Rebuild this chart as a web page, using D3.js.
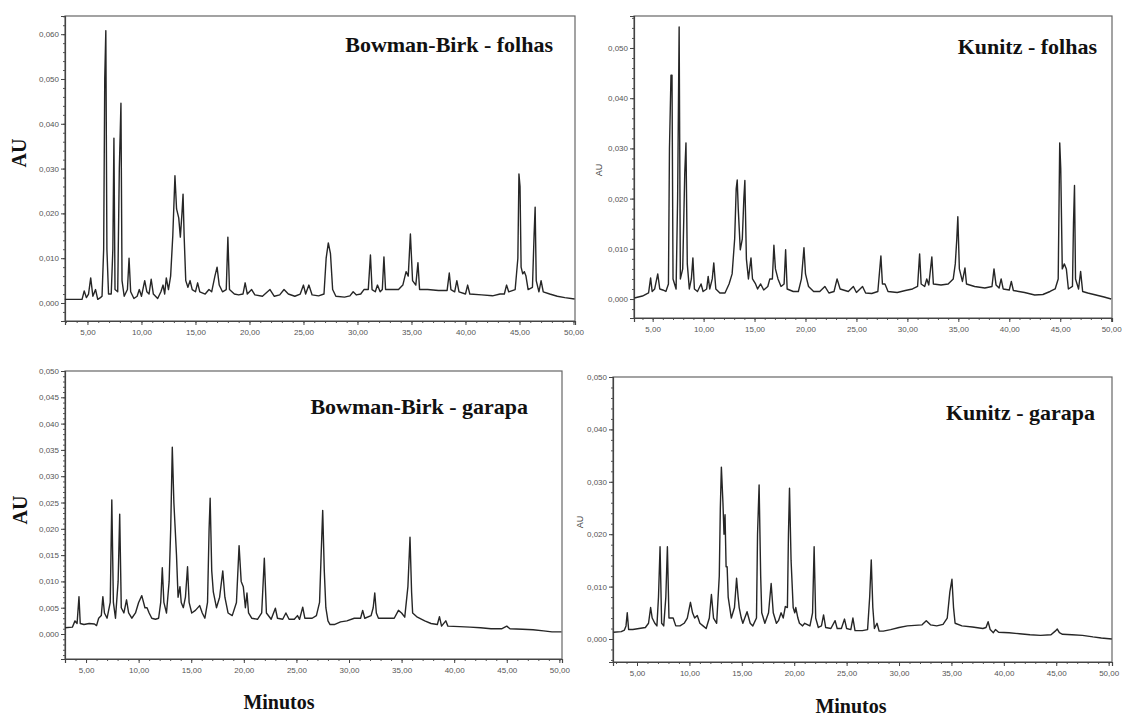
<!DOCTYPE html>
<html>
<head>
<meta charset="utf-8">
<script src="https://cdn.jsdelivr.net/npm/d3@7"></script>
<style>
  body { margin: 0; background: #fff; }
  svg { display: block; }
  .tick text { font-family: "Liberation Sans", Arial, sans-serif; font-size: 8px; fill: #555; }
  .title { font-family: "Liberation Serif", "Times New Roman", serif; font-weight: bold; font-size: 22px; fill: #111; }
  .au-big { font-family: "Liberation Serif", serif; font-weight: bold; font-size: 20px; fill: #111; }
  .au-small { font-family: "Liberation Sans", sans-serif; font-size: 9px; fill: #444; }
  .minutos { font-family: "Liberation Serif", serif; font-weight: bold; font-size: 20px; fill: #111; }
</style>
</head>
<body>
<svg id="chart" width="1123" height="716"></svg>
<script>
// tick values / labels
const xTicks = [5, 10, 15, 20, 25, 30, 35, 40, 45, 50];
const xTickLabels = ["5,00", "10,00", "15,00", "20,00", "25,00", "30,00", "35,00", "40,00", "45,00", "50,00"];
const yTicks60 = [0, 0.01, 0.02, 0.03, 0.04, 0.05, 0.06];
const yTicks50 = [0, 0.01, 0.02, 0.03, 0.04, 0.05];
const yTicks50fine = [0, 0.005, 0.01, 0.015, 0.02, 0.025, 0.03, 0.035, 0.04, 0.045, 0.05];

const titles = ["Bowman-Birk - folhas", "Kunitz - folhas", "Bowman-Birk - garapa", "Kunitz - garapa"];

// chromatogram traces: [minutes, AU]
const bbFolhas = [[2.9,0.0008],[4.5,0.0008],[4.7,0.0027],[4.9,0.0012],[5.1,0.002],[5.3,0.0056],[5.5,0.0015],[5.75,0.003],[5.95,0.0008],[6.2,0.0012],[6.35,0.0015],[6.5,0.012],[6.6,0.05],[6.7,0.0608],[6.8,0.012],[6.95,0.002],[7.2,0.002],[7.35,0.012],[7.45,0.0368],[7.55,0.003],[7.8,0.0025],[7.95,0.03],[8.1,0.0446],[8.2,0.005],[8.4,0.0015],[8.7,0.003],[8.85,0.01],[9.0,0.0025],[9.3,0.001],[9.6,0.0015],[9.8,0.003],[10.0,0.0015],[10.3,0.005],[10.5,0.0025],[10.7,0.002],[10.9,0.0053],[11.1,0.002],[11.5,0.001],[11.8,0.0025],[12.0,0.004],[12.15,0.002],[12.3,0.0056],[12.5,0.003],[12.7,0.006],[12.9,0.015],[13.1,0.0284],[13.25,0.021],[13.45,0.019],[13.6,0.0147],[13.75,0.02],[13.85,0.0243],[13.95,0.015],[14.1,0.005],[14.3,0.0035],[14.5,0.005],[14.7,0.003],[15.0,0.0025],[15.2,0.0045],[15.4,0.0025],[15.9,0.002],[16.25,0.003],[16.5,0.0025],[16.8,0.006],[17.0,0.008],[17.2,0.004],[17.5,0.0025],[17.85,0.003],[18.0,0.0147],[18.15,0.003],[18.6,0.002],[19.0,0.0018],[19.4,0.002],[19.6,0.0045],[19.8,0.002],[20.2,0.003],[20.5,0.0018],[21.2,0.0015],[21.9,0.003],[22.3,0.0015],[22.8,0.0018],[23.2,0.003],[23.6,0.002],[24.2,0.0015],[24.7,0.002],[25.0,0.004],[25.2,0.002],[25.5,0.004],[25.8,0.0018],[26.4,0.0016],[26.9,0.002],[27.1,0.01],[27.3,0.0134],[27.5,0.011],[27.7,0.003],[28.0,0.0015],[28.8,0.0013],[29.3,0.0016],[29.6,0.0025],[29.9,0.0018],[30.3,0.002],[30.6,0.003],[31.0,0.003],[31.2,0.0107],[31.35,0.003],[31.65,0.0025],[31.85,0.004],[32.1,0.0025],[32.3,0.003],[32.45,0.0103],[32.6,0.003],[33.2,0.003],[33.8,0.003],[34.2,0.004],[34.5,0.007],[34.7,0.006],[34.9,0.0154],[35.1,0.005],[35.4,0.004],[35.6,0.009],[35.75,0.003],[36.5,0.003],[37.5,0.0028],[38.3,0.0028],[38.5,0.0067],[38.65,0.003],[39.0,0.0025],[39.2,0.005],[39.4,0.0025],[40.0,0.002],[40.2,0.004],[40.4,0.002],[41.5,0.0018],[42.5,0.0016],[43.2,0.002],[43.6,0.002],[43.8,0.004],[44.0,0.0025],[44.6,0.003],[44.85,0.01],[44.95,0.0288],[45.05,0.026],[45.15,0.008],[45.3,0.0065],[45.45,0.007],[45.6,0.006],[45.8,0.003],[46.2,0.0035],[46.35,0.015],[46.45,0.0214],[46.55,0.005],[46.8,0.0025],[47.0,0.005],[47.2,0.0025],[47.8,0.002],[48.5,0.0015],[49.2,0.0012],[50.1,0.0009]];

const kFolhas = [[3.2,0.0002],[4.0,0.0006],[4.6,0.0012],[4.8,0.0042],[4.95,0.0015],[5.2,0.002],[5.5,0.005],[5.7,0.002],[6.0,0.0018],[6.3,0.0015],[6.55,0.003],[6.65,0.03],[6.8,0.0446],[6.9,0.0446],[7.0,0.004],[7.3,0.002],[7.45,0.02],[7.6,0.0542],[7.72,0.004],[7.95,0.006],[8.15,0.025],[8.27,0.0311],[8.4,0.007],[8.6,0.002],[8.8,0.004],[8.95,0.0082],[9.1,0.002],[9.4,0.0015],[9.75,0.003],[9.95,0.0015],[10.3,0.002],[10.45,0.0045],[10.6,0.002],[10.85,0.004],[11.0,0.0072],[11.2,0.002],[11.6,0.0012],[12.1,0.0012],[12.5,0.003],[12.8,0.005],[13.05,0.012],[13.2,0.022],[13.3,0.0237],[13.4,0.018],[13.6,0.0098],[13.8,0.012],[13.95,0.02],[14.05,0.0236],[14.2,0.008],[14.4,0.004],[14.65,0.0082],[14.8,0.004],[15.1,0.003],[15.3,0.002],[15.6,0.003],[15.9,0.0018],[16.3,0.0025],[16.5,0.004],[16.75,0.004],[16.9,0.0107],[17.05,0.006],[17.3,0.004],[17.6,0.0025],[17.9,0.003],[18.05,0.0098],[18.2,0.002],[18.8,0.0015],[19.3,0.0015],[19.6,0.004],[19.85,0.0102],[20.0,0.005],[20.3,0.0025],[20.8,0.0015],[21.4,0.0015],[21.9,0.0025],[22.3,0.0012],[22.8,0.0015],[23.1,0.004],[23.4,0.002],[24.2,0.0015],[24.7,0.0025],[25.0,0.0013],[25.6,0.0025],[25.9,0.0012],[26.5,0.0011],[27.1,0.0015],[27.4,0.0086],[27.55,0.003],[27.8,0.003],[28.1,0.0015],[29.0,0.0013],[29.8,0.0017],[30.5,0.002],[31.0,0.0025],[31.2,0.009],[31.35,0.003],[31.7,0.0025],[31.9,0.004],[32.1,0.0028],[32.4,0.0084],[32.55,0.003],[33.3,0.0028],[34.0,0.003],[34.5,0.004],[34.7,0.007],[34.85,0.012],[34.95,0.0164],[35.1,0.006],[35.4,0.0035],[35.65,0.0062],[35.8,0.003],[36.6,0.0025],[37.6,0.0022],[38.3,0.0025],[38.5,0.006],[38.7,0.0028],[39.0,0.0022],[39.2,0.004],[39.4,0.002],[40.0,0.0018],[40.2,0.0035],[40.4,0.0017],[41.5,0.0013],[42.5,0.0008],[43.3,0.0009],[44.0,0.0015],[44.5,0.002],[44.8,0.004],[44.95,0.0311],[45.05,0.026],[45.2,0.006],[45.4,0.007],[45.6,0.006],[45.8,0.002],[46.2,0.0025],[46.3,0.015],[46.4,0.0226],[46.5,0.004],[46.8,0.002],[47.0,0.0055],[47.2,0.0015],[47.7,0.0012],[48.5,0.0008],[49.3,0.0004],[50.0,0.0]];

const bbGarapa = [[3.0,0.0012],[3.7,0.0013],[3.95,0.0025],[4.15,0.002],[4.33,0.0071],[4.45,0.002],[4.8,0.0018],[5.3,0.002],[5.8,0.0019],[6.0,0.0016],[6.2,0.003],[6.45,0.0035],[6.6,0.0071],[6.75,0.004],[7.0,0.003],[7.3,0.006],[7.45,0.0255],[7.6,0.006],[7.8,0.003],[8.05,0.01],[8.2,0.0228],[8.35,0.005],[8.6,0.004],[8.85,0.0065],[9.05,0.004],[9.35,0.003],[9.7,0.004],[10.0,0.006],[10.3,0.0073],[10.6,0.005],[10.8,0.005],[11.0,0.004],[11.25,0.003],[11.6,0.0028],[11.9,0.003],[12.1,0.006],[12.25,0.0126],[12.4,0.006],[12.65,0.004],[12.9,0.01],[13.05,0.02],[13.2,0.0355],[13.35,0.025],[13.45,0.021],[13.6,0.015],[13.75,0.007],[13.93,0.009],[14.05,0.006],[14.25,0.005],[14.45,0.007],[14.65,0.0128],[14.8,0.006],[15.05,0.004],[15.4,0.0045],[15.8,0.0054],[16.05,0.004],[16.3,0.003],[16.55,0.006],[16.7,0.02],[16.8,0.0258],[16.95,0.012],[17.1,0.008],[17.4,0.005],[17.7,0.007],[18.0,0.012],[18.2,0.007],[18.5,0.004],[18.9,0.0035],[19.3,0.006],[19.55,0.0168],[19.75,0.01],[19.95,0.009],[20.15,0.005],[20.3,0.0078],[20.45,0.004],[20.75,0.003],[21.3,0.0028],[21.7,0.004],[21.95,0.0144],[22.15,0.004],[22.6,0.0028],[23.0,0.0049],[23.2,0.003],[23.7,0.0028],[24.0,0.004],[24.3,0.0028],[24.8,0.0028],[25.1,0.0035],[25.3,0.0028],[25.6,0.0051],[25.8,0.003],[26.5,0.003],[26.9,0.0035],[27.2,0.006],[27.35,0.015],[27.5,0.0235],[27.65,0.012],[27.8,0.005],[28.0,0.0025],[28.2,0.0018],[28.6,0.0018],[29.2,0.0023],[29.8,0.0025],[30.5,0.003],[31.1,0.003],[31.3,0.0045],[31.5,0.003],[32.1,0.0035],[32.3,0.005],[32.45,0.0078],[32.6,0.004],[32.8,0.003],[33.5,0.003],[34.3,0.003],[34.7,0.0045],[35.0,0.004],[35.3,0.0032],[35.6,0.009],[35.8,0.0184],[35.95,0.008],[36.05,0.004],[36.5,0.0032],[37.2,0.0025],[37.8,0.002],[38.4,0.0018],[38.6,0.0033],[38.8,0.0015],[39.2,0.0025],[39.4,0.0015],[40.5,0.0014],[41.5,0.0013],[42.5,0.0012],[43.5,0.001],[44.5,0.001],[45.0,0.0015],[45.3,0.001],[46.5,0.0009],[47.5,0.0008],[48.5,0.0006],[49.3,0.0004],[50.2,0.0004]];

const kGarapa = [[2.75,0.0013],[3.5,0.0014],[3.8,0.0017],[3.95,0.0025],[4.07,0.005],[4.2,0.0018],[4.6,0.0018],[5.2,0.002],[5.8,0.0022],[6.1,0.003],[6.3,0.006],[6.45,0.004],[6.7,0.003],[6.9,0.0025],[7.05,0.008],[7.2,0.0176],[7.35,0.003],[7.55,0.0025],[7.75,0.008],[7.9,0.0176],[8.05,0.004],[8.45,0.004],[8.7,0.0025],[9.1,0.0025],[9.5,0.003],[9.8,0.004],[10.1,0.007],[10.3,0.005],[10.5,0.004],[10.75,0.0045],[11.0,0.003],[11.3,0.0025],[11.6,0.002],[11.9,0.004],[12.1,0.0085],[12.3,0.004],[12.6,0.003],[12.85,0.012],[12.95,0.025],[13.05,0.0328],[13.2,0.026],[13.3,0.02],[13.4,0.0237],[13.5,0.0138],[13.6,0.0138],[13.7,0.008],[13.85,0.006],[14.0,0.004],[14.3,0.006],[14.5,0.0116],[14.65,0.008],[14.75,0.006],[14.95,0.004],[15.1,0.003],[15.5,0.0052],[15.8,0.003],[16.05,0.0025],[16.4,0.004],[16.5,0.02],[16.65,0.0294],[16.8,0.012],[16.9,0.005],[17.2,0.003],[17.55,0.005],[17.8,0.0106],[18.0,0.005],[18.3,0.003],[18.5,0.0035],[18.75,0.005],[18.95,0.004],[19.15,0.0062],[19.35,0.006],[19.45,0.02],[19.55,0.0288],[19.7,0.015],[19.9,0.006],[20.05,0.005],[20.15,0.006],[20.35,0.004],[20.5,0.003],[20.8,0.0025],[21.0,0.003],[21.5,0.0025],[21.75,0.005],[21.9,0.0176],[22.05,0.004],[22.3,0.0022],[22.6,0.0025],[22.8,0.0046],[23.0,0.0022],[23.5,0.002],[23.9,0.0035],[24.1,0.002],[24.5,0.002],[24.8,0.0038],[25.0,0.002],[25.4,0.0018],[25.6,0.004],[25.8,0.0016],[26.5,0.0016],[27.0,0.0018],[27.2,0.008],[27.35,0.0151],[27.5,0.006],[27.65,0.002],[27.9,0.003],[28.1,0.0015],[28.5,0.0015],[29.2,0.0018],[30.0,0.0022],[30.8,0.0025],[31.5,0.0026],[32.2,0.0027],[32.6,0.0035],[33.0,0.0027],[33.6,0.0025],[34.2,0.0028],[34.6,0.004],[34.85,0.009],[35.05,0.0114],[35.2,0.006],[35.35,0.003],[36.0,0.0025],[37.0,0.0023],[38.0,0.002],[38.3,0.0022],[38.5,0.0033],[38.7,0.0018],[39.0,0.0012],[39.2,0.0018],[39.5,0.0013],[40.5,0.0012],[41.5,0.001],[42.5,0.0008],[43.5,0.0007],[44.5,0.0008],[44.9,0.0015],[45.1,0.0019],[45.3,0.0012],[45.6,0.0009],[46.5,0.0008],[47.5,0.0007],[48.5,0.0004],[49.3,0.0002],[50.3,0.0]];

const svg = d3.select("#chart");

// layout of the four panels (pixel boxes and axis domains)
const panels = [
  { trace: bbFolhas, title: titles[0], left: 65, top: 16, right: 575, bottom: 321,
    xDom: [2.92, 50.14], yDom: [-0.00402, 0.06406], yTicks: yTicks60, yMinor: 0.002,
    titleX: 553, titleY: 52, bigAU: true, auX: 26, auY: 153 },
  { trace: kFolhas, title: titles[1], left: 634, top: 16, right: 1112, bottom: 318,
    xDom: [3.17, 50.08], yDom: [-0.00378, 0.05637], yTicks: yTicks50, yMinor: 0.002,
    titleX: 1097, titleY: 54, bigAU: false, auX: 602, auY: 170 },
  { trace: bbGarapa, title: titles[2], left: 65, top: 371, right: 562, bottom: 659,
    xDom: [3.0, 50.25], yDom: [-0.00475, 0.05], yTicks: yTicks50fine, yMinor: 0.001,
    titleX: 528, titleY: 414, bigAU: true, auX: 27, auY: 510,
    minX: 279, minY: 709 },
  { trace: kGarapa, title: titles[3], left: 613, top: 377, right: 1112, bottom: 662,
    xDom: [2.71, 50.32], yDom: [-0.00439, 0.05], yTicks: yTicks50, yMinor: 0.002,
    titleX: 1095, titleY: 420, bigAU: false, auX: 583, auY: 522,
    minX: 851, minY: 713 }
];

// 0.01 -> "0,010"
function comma(v) { return d3.format(".3f")(v).replace(".", ","); }

function drawPanel(p) {
  const g = svg.append("g");
  const x = d3.scaleLinear().domain(p.xDom).range([p.left, p.right]);
  const y = d3.scaleLinear().domain(p.yDom).range([p.bottom, p.top]);

  // frame
  g.append("rect")
    .attr("x", p.left).attr("y", p.top)
    .attr("width", p.right - p.left).attr("height", p.bottom - p.top)
    .attr("fill", "none").attr("stroke", "#666").attr("stroke-width", 1.2);

  // minor ticks
  const yMinorVals = d3.range(Math.ceil(p.yDom[0] / p.yMinor) * p.yMinor, p.yDom[1], p.yMinor);
  g.append("g").attr("transform", `translate(${p.left},0)`)
    .call(d3.axisLeft(y).tickValues(yMinorVals).tickSize(2).tickFormat(""))
    .call(a => a.select(".domain").remove())
    .selectAll("line").attr("stroke", "#555");
  const xMinorVals = d3.range(Math.ceil(p.xDom[0]), p.xDom[1], 1);
  g.append("g").attr("transform", `translate(0,${p.bottom})`)
    .call(d3.axisBottom(x).tickValues(xMinorVals).tickSize(2).tickFormat(""))
    .call(a => a.select(".domain").remove())
    .selectAll("line").attr("stroke", "#555");

  // major axes
  const yAx = g.append("g").attr("transform", `translate(${p.left},0)`)
    .call(d3.axisLeft(y).tickValues(p.yTicks).tickSize(4).tickPadding(2).tickFormat(comma));
  yAx.select(".domain").attr("stroke", "#444").attr("stroke-width", 1.2);
  yAx.selectAll("line").attr("stroke", "#444");

  const xAx = g.append("g").attr("transform", `translate(0,${p.bottom})`)
    .call(d3.axisBottom(x).tickValues(xTicks).tickSize(4).tickPadding(4)
      .tickFormat((d, i) => xTickLabels[i]));
  xAx.select(".domain").attr("stroke", "#444").attr("stroke-width", 1.2);
  xAx.selectAll("line").attr("stroke", "#444");

  // trace
  const line = d3.line().x(d => x(d[0])).y(d => y(d[1]));
  g.append("path").datum(p.trace)
    .attr("d", line)
    .attr("fill", "none")
    .attr("stroke", "#262626")
    .attr("stroke-width", 1.4)
    .attr("stroke-linejoin", "round");

  // title
  g.append("text").attr("class", "title")
    .attr("x", p.titleX).attr("y", p.titleY)
    .attr("text-anchor", "end").text(p.title);

  // AU label
  g.append("text").attr("class", p.bigAU ? "au-big" : "au-small")
    .attr("transform", `translate(${p.auX},${p.auY}) rotate(-90)`)
    .attr("text-anchor", "middle").text("AU");

  if (p.minX) {
    g.append("text").attr("class", "minutos")
      .attr("x", p.minX).attr("y", p.minY)
      .attr("text-anchor", "middle").text("Minutos");
  }
}

panels.forEach(drawPanel);
</script>
</body>
</html>
